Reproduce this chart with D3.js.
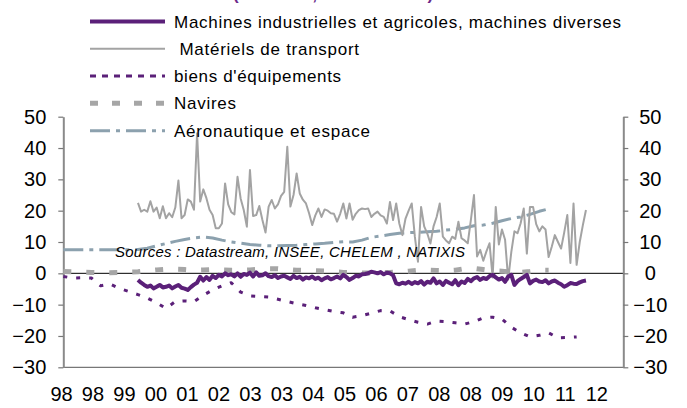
<!DOCTYPE html>
<html>
<head>
<meta charset="utf-8">
<script src="https://cdn.jsdelivr.net/npm/d3@7"></script>
<style>
  body { margin: 0; background: #fff; }
  svg { display: block; font-family: "Liberation Sans", Arial, sans-serif; }
</style>
</head>
<body>
<div id="chart"></div>
<script>
// x tick labels (one every 10 months from Jan 98)
var tickLabels = ["98", "98", "99", "00", "01", "02", "03", "03", "04", "05", "06", "07", "08", "08", "09", "10", "11", "12"];
var yTicks = [-30, -20, -10, 0, 10, 20, 30, 40, 50];

var seriesNames = [
    "Machines industrielles et agricoles, machines diverses",
    " Matériels de transport",
    "biens d'équipements",
    "Navires",
    "Aéronautique et espace"
];

// monthly, first value = Jan 2000 (month 24 counted from Jan 1998)
var machinesStart = 24;
var machines = [
    -2.1, -3.0, -3.7, -4.3, -3.9, -4.8, -4.3, -3.7, -4.5, -4.3, -3.9, -4.8, -4.2, -3.7, -4.6, -4.9, -5.3, -4.4, -3.6, -3.0,
    -1.1, -2.3, -1.2, -2.1, -0.8, -1.5, -0.5, -1.0, 0.0, -0.6, -0.3, -1.0, 0.0, -1.1, -0.2, -0.5, 0.2, -1.0, 0.3, -0.8,
    -0.6, 0.0, -0.9, -1.2, -0.6, -1.5, -1.0, -0.8, -1.3, -1.8, -0.8, -1.5, -1.1, -2.0, -1.3, -1.6, -1.0, -1.8, -1.4, -2.2,
    -1.6, -1.2, -1.9, -1.5, -1.0, -1.6, -0.5, -1.2, -2.1, -1.5, -0.8, -1.0, -0.3, -0.2, 0.0, 0.5, 0.3, 0.0, 0.4, -0.3,
    0.2, 0.0, -0.6, -3.2, -3.5, -3.0, -3.3, -2.7, -3.4, -2.8, -3.2, -2.5, -3.6, -2.7, -3.0, -1.6, -3.2, -2.6, -3.7, -2.4,
    -3.0, -3.5, -2.2, -3.8, -2.6, -3.1, -1.8, -2.5, -1.6, -1.2, -2.1, -1.5, -1.8, -0.9, -0.5, -1.3, -2.0, -1.5, -2.7, -1.0,
    -0.5, -3.7, -2.5, -1.8, -1.2, -0.5, -3.2, -2.4, -2.0, -2.6, -2.8, -2.2, -3.2, -2.6, -2.3, -3.0, -3.5, -4.3, -3.8, -3.1,
    -3.3, -3.4, -2.9, -2.5, -2.3
];

var transportStart = 24;
var transport = [
    22.5, 19.7, 20.3, 19.7, 23.0, 19.7, 21.0, 17.6, 21.4, 17.6, 19.2, 17.9, 21.0, 29.6, 17.6, 18.6, 23.6, 22.9, 20.3, 44.7,
    22.9, 26.8, 24.0, 20.3, 18.6, 14.4, 14.4, 15.9, 28.7, 22.0, 19.5, 18.8, 30.8, 23.9, 20.2, 14.9, 33.0, 18.3, 18.6, 21.5,
    17.0, 13.0, 21.3, 23.4, 20.7, 22.0, 24.7, 26.0, 40.4, 21.3, 25.0, 31.9, 25.5, 23.5, 22.3, 19.2, 15.4, 18.5, 20.7, 18.0,
    20.4, 20.0, 19.2, 19.0, 16.5, 19.0, 22.3, 17.5, 22.3, 17.1, 19.0, 20.2, 20.7, 20.5, 20.7, 18.0, 19.0, 19.7, 18.5, 18.0,
    15.9, 22.8, 17.0, 22.3, 15.9, 12.2, 17.5, 20.0, 22.3, 11.7, 3.7, 21.2, 15.0, 12.7, 9.5, 15.0, 18.0, 22.3, 11.7, 10.5,
    9.6, 11.7, 11.0, 16.5, 11.2, 10.5, 9.6, 17.0, 25.0, 5.4, 7.5, 4.0, 7.0, 9.6, -1.3, 21.2, 9.2, 14.0, 10.7, -2.0,
    6.8, 13.4, 12.8, 16.0, 20.7, 6.3, 21.2, 21.2, 15.7, 13.4, 15.0, 14.0, 5.2, 8.5, 12.2, 10.0, 7.9, 13.0, 18.6, 3.3,
    22.3, 2.7, 10.0, 15.4, 20.2
];

// quarterly, first value = Jan 1998
var quarterStep = 3;
var biens = [
    -1.0, -1.5, -1.4, -1.5, -4.0, -3.4, -4.8, -5.8, -6.8, -7.9, -9.4, -11.2, -9.0, -8.8, -9.0, -7.0,
    -5.3, -4.0, -3.0, -6.0, -7.2, -7.4, -7.6, -8.3, -9.0, -9.7, -10.3, -11.0, -11.6, -12.2, -12.6, -14.0,
    -13.5, -12.7, -11.9, -12.0, -13.8, -14.8, -15.6, -16.2, -15.2, -15.4, -15.8, -16.2, -15.4, -14.2, -14.0, -14.6,
    -17.2, -19.0, -20.3, -19.8, -19.0, -20.6, -20.5, -20.3
];
var navires = [
    0.6, 0.5, 0.4, 0.3, 0.2, 0.2, 0.3, 0.4, 0.5, 0.8, 1.1, 1.3, 1.3, 1.2, 1.0, 1.1,
    1.2, 1.1, 1.0, 1.0, 1.1, 1.3, 1.5, 1.5, 1.2, 1.0, 0.9, 0.8, 0.7, 0.5, 0.3, 0.2,
    0.1, 0.1, 0.2, 0.3, 0.4, 0.7, 1.0, 1.0, 0.9, 0.8, 1.0, 1.5, 1.6, 1.2, 0.8, 0.7,
    0.4, 0.3, 0.6, 1.0, 1.0
];
var aero = [
    7.5, 7.5, 7.5, 7.5, 7.5, 7.5, 7.5, 7.5, 7.6, 8.0, 8.8, 9.5, 10.2, 10.8, 11.3, 11.6,
    11.3, 10.6, 10.0, 9.6, 9.2, 9.0, 8.8, 8.8, 8.9, 9.0, 9.2, 9.4, 9.6, 9.9, 10.1, 10.0,
    10.6, 11.5, 11.9, 12.4, 12.8, 13.0, 13.1, 13.3, 13.4, 13.8, 14.0, 14.5, 15.2, 15.4, 16.0, 16.8,
    17.5, 18.0, 18.8, 19.8, 20.6
];

var width = 687, height = 408;
var purple = "#5b2079";

var svg = d3.select("#chart").append("svg")
    .attr("width", width)
    .attr("height", height);

// months since Jan 1998 -> px
var x = d3.scaleLinear().domain([0, 180]).range([63.3, 623.3]);
var y = d3.scaleLinear().domain([-30, 50]).range([367.3, 116.7]);
var xLab = d3.scaleLinear().domain([0, tickLabels.length - 1]).range([61, 596.3]);

function toPoints(vals, start, step) {
    return vals.map(function (v, i) { return { m: start + i * step, v: v }; });
}

var line = d3.line()
    .x(function (d) { return x(d.m); })
    .y(function (d) { return y(d.v); });

// title, cut by the top edge as in the original
svg.append("text")
    .attr("x", 233).attr("y", 0)
    .attr("fill", "#6b2a8a")
    .style("font-size", "17px").style("font-weight", "bold")
    .text("(en valeur, en % du total)");

// zero line + bottom line
svg.append("line")
    .attr("x1", x(0)).attr("x2", x(180))
    .attr("y1", y(0)).attr("y2", y(0))
    .attr("stroke", "#000").attr("stroke-width", 1);
svg.append("line")
    .attr("x1", x(0)).attr("x2", x(180))
    .attr("y1", y(-30)).attr("y2", y(-30))
    .attr("stroke", "#555").attr("stroke-width", 1);

// left / right axes
var yl = svg.append("g")
    .attr("transform", "translate(" + x(0) + ",0)")
    .call(d3.axisLeft(y).tickValues(yTicks).tickSize(5).tickSizeOuter(0).tickPadding(12));
var yr = svg.append("g")
    .attr("transform", "translate(" + x(180) + ",0)")
    .call(d3.axisRight(y).tickValues(yTicks).tickSize(5).tickSizeOuter(0));
yr.selectAll("text").attr("x", 27).attr("text-anchor", "middle");

[yl, yr].forEach(function (g) {
    g.select(".domain").attr("stroke", "#8a8a8a").attr("stroke-width", 2);
    g.selectAll(".tick line").attr("stroke", "#777").attr("stroke-width", 1.2);
    g.selectAll("text").attr("fill", "#000").style("font-size", "20px")
        .style("font-family", "'Liberation Sans', Arial, sans-serif");
});

// x labels
var xa = svg.append("g")
    .attr("transform", "translate(0," + y(-30) + ")")
    .call(d3.axisBottom(xLab)
        .tickValues(d3.range(tickLabels.length))
        .tickFormat(function (i) { return tickLabels[i]; })
        .tickSize(0).tickPadding(19.5));
xa.select(".domain").remove();
xa.selectAll("text").attr("fill", "#000").style("font-size", "20px")
    .style("font-family", "'Liberation Sans', Arial, sans-serif");

// series
var styles = [
    { color: purple, w: 4, dash: null, legDash: null },
    { color: "#a3a3a3", w: 2, dash: null, legDash: null },
    { color: purple, w: 3, dash: "4,9", legDash: "6,6" },
    { color: "#a6a6a6", w: 5, dash: "8,15", legDash: "8,14" },
    { color: "#8ca1ae", w: 3, dash: "20,6,4,6", legDash: "20,6,4,6" }
];

var data = [
    toPoints(machines, machinesStart, 1),
    toPoints(transport, transportStart, 1),
    toPoints(biens, 0, quarterStep),
    toPoints(navires, 0, quarterStep),
    toPoints(aero, 0, quarterStep)
];

var drawOrder = [3, 4, 2, 1, 0];
drawOrder.forEach(function (k) {
    svg.append("path")
        .datum(data[k])
        .attr("d", line)
        .attr("fill", "none")
        .attr("stroke", styles[k].color)
        .attr("stroke-width", styles[k].w)
        .attr("stroke-dasharray", styles[k].dash)
        .attr("stroke-linejoin", "round");
});

// sources note
svg.append("text")
    .attr("x", 115).attr("y", 257)
    .style("font-size", "15px").style("font-style", "italic")
    .attr("textLength", 350).attr("lengthAdjust", "spacing")
    .text("Sources : Datastream, INSEE, CHELEM , NATIXIS");

// legend
var rowY = [21.5, 48.7, 76, 103.3, 130.7];
var textW = [447, 185, 167, 62, 196];
var leg = svg.append("g");
seriesNames.forEach(function (name, k) {
    leg.append("line")
        .attr("x1", 90).attr("x2", 165)
        .attr("y1", rowY[k]).attr("y2", rowY[k])
        .attr("stroke", styles[k].color)
        .attr("stroke-width", styles[k].w)
        .attr("stroke-dasharray", styles[k].legDash);
    leg.append("text")
        .attr("x", 174).attr("y", rowY[k] + 6)
        .style("font-size", "17px")
        .attr("textLength", textW[k]).attr("lengthAdjust", "spacing")
        .style("white-space", "pre")
        .text(name);
});
</script>
</body>
</html>
